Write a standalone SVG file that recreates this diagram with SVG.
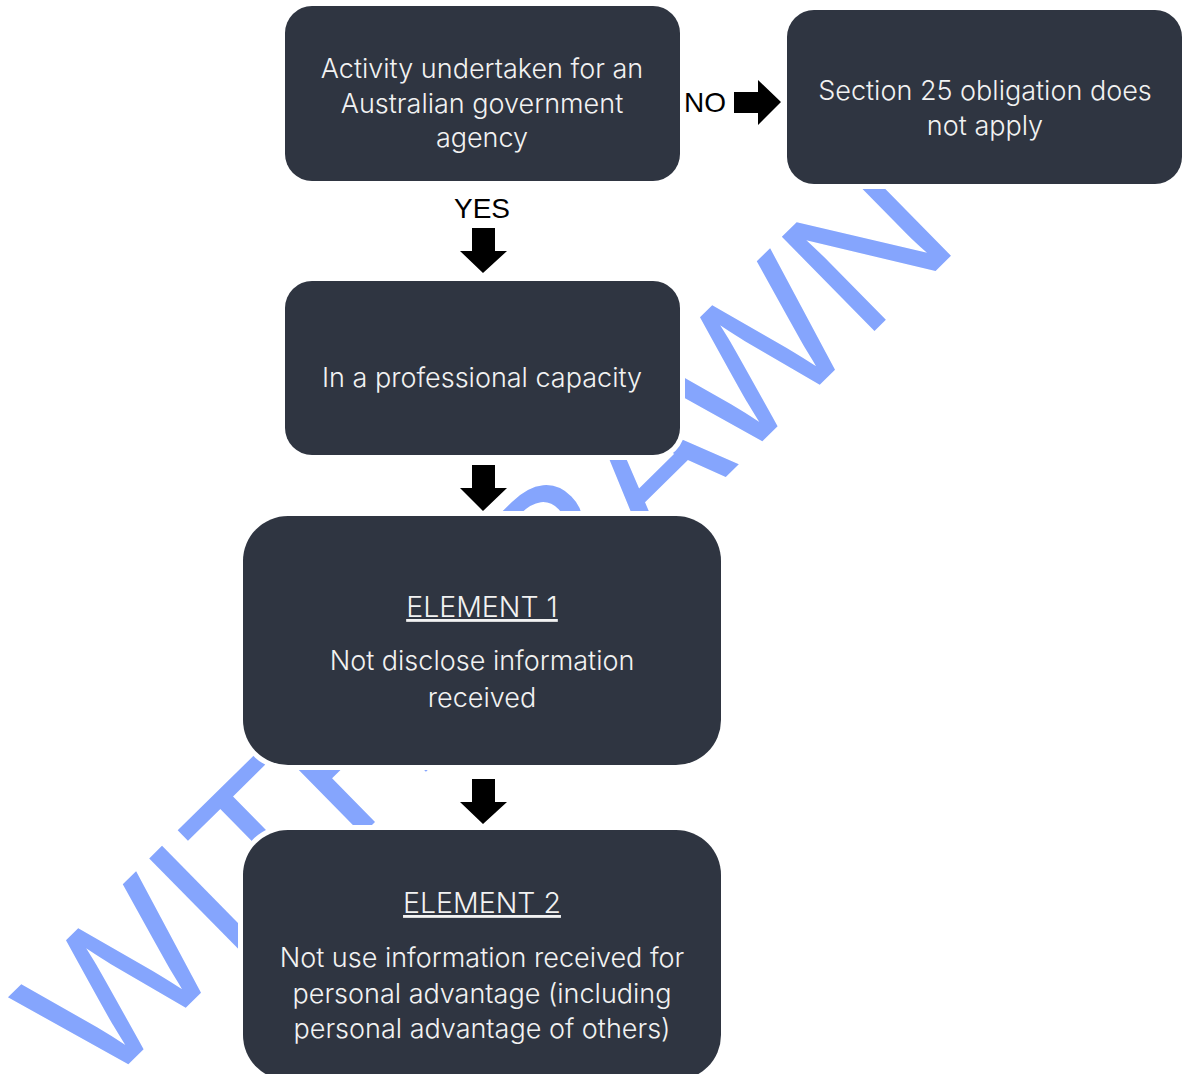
<svg xmlns="http://www.w3.org/2000/svg" width="1187" height="1074" viewBox="0 0 1187 1074">
  <style>
    .box { fill: #2f3541; stroke: #ffffff; stroke-width: 10; paint-order: stroke; }
    .t { font-family: Inter, "Liberation Sans", sans-serif; font-weight: 300; font-size: 27px; fill: #f2f2f2; text-anchor: middle; }
    .h { font-size: 28.5px; text-decoration: underline; }
    .lbl { font-family: "Liberation Sans", Arial, sans-serif; font-size: 28px; fill: #000; }
    .arr { fill: #000; }
    .wm { font-family: "Liberation Sans", Arial, sans-serif; font-size: 192px; fill: #85a5fd; }
  </style>
  <rect width="1187" height="1074" fill="#ffffff"/>
  <g id="watermark">
    <text class="wm" x="100" y="1092" transform="rotate(-44.5 100 1092)">WITHDRAWN</text>
  </g>
  <g id="connectors">
    <text class="lbl" x="684" y="112">NO</text>
    <polygon class="arr" points="734,92 758,92 758,80 781,102 758,125 758,113 734,113"/>
    <text class="lbl" x="482" y="218" text-anchor="middle">YES</text>
    <polygon class="arr" points="472,228 495,228 495,251 507,251 483,273 460,251 472,251"/>
    <polygon class="arr" points="472,465 495,465 495,488 507,488 483,511 460,488 472,488"/>
    <polygon class="arr" points="472,779 495,779 495,802 507,802 483,824 460,802 472,802"/>
  </g>
  <g id="node-activity">
    <rect class="box" x="285" y="6" width="395" height="175" rx="27"/>
    <text class="t" x="482" y="78">Activity undertaken for an</text>
    <text class="t" x="482" y="113">Australian government</text>
    <text class="t" x="482" y="147">agency</text>
  </g>
  <g id="node-section25">
    <rect class="box" x="787" y="10" width="395" height="174" rx="27"/>
    <text class="t" x="985" y="100">Section 25 obligation does</text>
    <text class="t" x="985" y="135">not apply</text>
  </g>
  <g id="node-professional">
    <rect class="box" x="285" y="281" width="395" height="174" rx="27"/>
    <text class="t" x="482" y="387">In a professional capacity</text>
  </g>
  <g id="node-element1">
    <rect class="box" x="243" y="516" width="478" height="249" rx="45"/>
    <text class="t h" x="482" y="617">ELEMENT 1</text>
    <text class="t" x="482" y="670">Not disclose information</text>
    <text class="t" x="482" y="707">received</text>
  </g>
  <g id="node-element2">
    <rect class="box" x="243" y="830" width="478" height="250" rx="45"/>
    <text class="t h" x="482" y="913">ELEMENT 2</text>
    <text class="t" x="482" y="967">Not use information received for</text>
    <text class="t" x="482" y="1003">personal advantage (including</text>
    <text class="t" x="482" y="1038">personal advantage of others)</text>
  </g>
</svg>
